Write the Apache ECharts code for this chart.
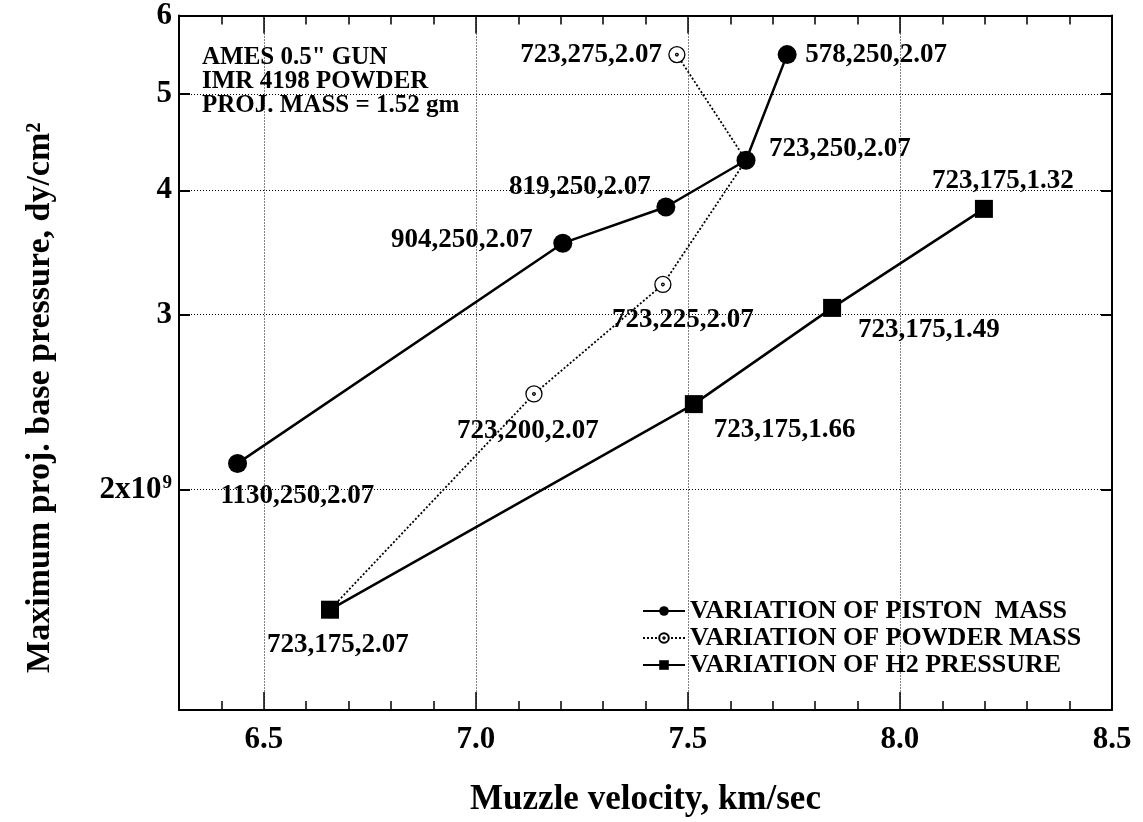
<!DOCTYPE html>
<html>
<head>
<meta charset="utf-8">
<script src="https://cdn.jsdelivr.net/npm/echarts@6/dist/echarts.min.js"></script>
<style>
html,body{margin:0;padding:0;background:#fff;}
#chart{width:1143px;height:822px;}
</style>
</head>
<body>
<div id="chart"></div>
<script>
// ---- data (velocity in km/sec, pressure in units of 10^9 dy/cm^2) ----
const xTickValues = [6.5, 7.0, 7.5, 8.0, 8.5];
const yTickValues = [2, 3, 4, 5, 6];

const seriesNames = ['VARIATION OF PISTON  MASS', 'VARIATION OF POWDER MASS', 'VARIATION OF H2 PRESSURE'];

const pistonVel = [6.438, 7.205, 7.448, 7.637, 7.734];
const pistonPres = [2.125, 3.54, 3.85, 4.29, 5.48];
const pistonLabels = ['1130,250,2.07', '904,250,2.07', '819,250,2.07', '723,250,2.07', '578,250,2.07'];

const powderVel = [6.656, 7.137, 7.441, 7.637, 7.474];
const powderPres = [1.514, 2.496, 3.217, 4.29, 5.48];
const powderLabels = ['', '723,200,2.07', '723,225,2.07', '', '723,275,2.07'];

const h2Vel = [6.656, 7.514, 7.840, 8.198];
const h2Pres = [1.514, 2.438, 3.047, 3.833];
const h2Labels = ['723,175,2.07', '723,175,1.66', '723,175,1.49', '723,175,1.32'];

const annotationLines = ['AMES 0.5" GUN', 'IMR 4198 POWDER', 'PROJ. MASS = 1.52 gm'];

// ---- label placement (styles, kept apart from the data) ----
const pistonLabelPlace = [
  {align: 'left', dx: -17, dy: 33},
  {align: 'right', dx: -30, dy: -3},
  {align: 'right', dx: -15, dy: -20},
  {align: 'left', dx: 23, dy: -11},
  {align: 'left', dx: 18, dy: 0}
];
const powderLabelPlace = [
  null,
  {align: 'left', dx: -77, dy: 37},
  {align: 'left', dx: -51, dy: 36},
  null,
  {align: 'right', dx: -15, dy: 0}
];
const h2LabelPlace = [
  {align: 'left', dx: -63, dy: 35},
  {align: 'left', dx: 20, dy: 26},
  {align: 'left', dx: 26, dy: 22},
  {align: 'left', dx: -52, dy: -28}
];

const FONT = '"Liberation Serif", "Times New Roman", serif';
const SCALE = 1e9;

function buildData(xs, ys, labels, places) {
  return xs.map(function (x, i) {
    const item = {value: [x, ys[i] * SCALE]};
    const p = places[i];
    if (labels[i] && p) {
      item.label = {
        show: true,
        position: 'inside',
        formatter: labels[i],
        align: p.align,
        verticalAlign: 'middle',
        offset: [p.dx, p.dy],
        color: '#000',
        fontFamily: FONT,
        fontWeight: 'bold',
        fontSize: 27,
        textBorderWidth: 0
      };
    } else {
      item.label = {show: false};
    }
    return item;
  });
}

const ringPath = 'path://M0,-10A10,10,0,1,1,0,10A10,10,0,1,1,0,-10ZM0,-1.6A1.6,1.6,0,1,1,0,1.6A1.6,1.6,0,1,1,0,-1.6Z';

const chart = echarts.init(document.getElementById('chart'), null, {renderer: 'canvas'});

const minorTicksAxis = function (pos) {
  return {
    type: 'value', min: 6.3, max: 8.5, interval: 0.1, position: pos,
    axisLine: {show: true, onZero: false, lineStyle: {color: '#000', width: 2}},
    axisTick: {show: true, inside: true, length: 9, lineStyle: {color: '#000', width: 1.5}},
    axisLabel: {show: false},
    splitLine: {show: false}
  };
};

const yAxisBase = function (pos) {
  return {
    type: 'log', logBase: 10, min: 1.2 * SCALE, max: 6 * SCALE, position: pos,
    axisLine: {show: true, onZero: false, lineStyle: {color: '#000', width: 2}},
    axisTick: {show: true, inside: true, length: 11, lineStyle: {color: '#000', width: 2},
      customValues: yTickValues.map(v => v * SCALE)},
    minorTick: {show: false},
    splitLine: {show: false},
    axisLabel: {show: false}
  };
};

const yLeft = yAxisBase('left');
yLeft.axisLabel = {
  show: true,
  customValues: yTickValues.map(v => v * SCALE),
  margin: 7,
  formatter: function (v) {
    const n = Math.round(v / SCALE);
    if (n === 2) return '{m|2x10}{s|9}';
    return '{m|' + n + '}';
  },
  rich: {
    m: {fontFamily: FONT, fontWeight: 'bold', fontSize: 31, color: '#000'},
    s: {fontFamily: FONT, fontWeight: 'bold', fontSize: 19, color: '#000', verticalAlign: 'top', padding: [0, 0, 12, 1]}
  }
};
yLeft.splitLine = {show: true, lineStyle: {color: '#000', width: 1, type: [1, 2]}};
yLeft.name = 'Maximum proj. base pressure, dy/cm²';
yLeft.nameLocation = 'middle';
yLeft.nameRotate = 90;
yLeft.nameGap = 122;
yLeft.nameTextStyle = {fontFamily: FONT, fontWeight: 'bold', fontSize: 34, color: '#000', padding: [0, 70, 0, 0]};

const xMajorBottom = {
  type: 'value', min: 6.3, max: 8.5, position: 'bottom',
  axisLine: {show: false, onZero: false},
  axisTick: {show: true, inside: true, length: 18, customValues: xTickValues, lineStyle: {color: '#000', width: 1.5}},
  axisLabel: {show: true, customValues: xTickValues, margin: 14,
    formatter: v => v.toFixed(1),
    fontFamily: FONT, fontWeight: 'bold', fontSize: 31, color: '#000'},
  splitLine: {show: true, lineStyle: {color: '#000', width: 1, type: [1, 2]}},
  name: 'Muzzle velocity, km/sec',
  nameLocation: 'middle',
  nameGap: 72,
  nameTextStyle: {fontFamily: FONT, fontWeight: 'bold', fontSize: 35, color: '#000'}
};
const xMajorTop = {
  type: 'value', min: 6.3, max: 8.5, position: 'top',
  axisLine: {show: false, onZero: false},
  axisTick: {show: true, inside: true, length: 18, customValues: xTickValues, lineStyle: {color: '#000', width: 1.5}},
  axisLabel: {show: false},
  splitLine: {show: false}
};

const option = {
  backgroundColor: '#fff',
  animation: false,
  grid: {left: 179, right: 31, top: 14, bottom: 111, containLabel: false},
  xAxis: [minorTicksAxis('bottom'), xMajorBottom, minorTicksAxis('top'), xMajorTop],
  yAxis: [yLeft, yAxisBase('right')],
  legend: {
    orient: 'vertical',
    left: 637, top: 593,
    itemWidth: 42, itemHeight: 12, itemGap: 1,
    data: seriesNames,
    textStyle: {fontFamily: FONT, fontWeight: 'bold', fontSize: 26, color: '#000'},
    inactiveColor: '#000'
  },
  graphic: [{
    type: 'text', left: 202, top: 45,
    style: {
      text: annotationLines.join('\n'),
      font: 'bold 25px ' + FONT,
      lineHeight: 24,
      fill: '#000'
    }
  }],
  series: [
    {
      name: seriesNames[1], type: 'line', xAxisIndex: 0, yAxisIndex: 0, z: 2,
      data: buildData(powderVel, powderPres, powderLabels, powderLabelPlace),
      symbol: ringPath, symbolSize: 16, showAllSymbol: true,
      itemStyle: {color: '#fff', borderColor: '#000', borderWidth: 1.3},
      lineStyle: {color: '#000', width: 1.8, type: [2, 2]}
    },
    {
      name: seriesNames[0], type: 'line', xAxisIndex: 0, yAxisIndex: 0, z: 3,
      data: buildData(pistonVel, pistonPres, pistonLabels, pistonLabelPlace),
      symbol: 'circle', symbolSize: 19, showAllSymbol: true,
      itemStyle: {color: '#000'},
      lineStyle: {color: '#000', width: 2.5}
    },
    {
      name: seriesNames[2], type: 'line', xAxisIndex: 0, yAxisIndex: 0, z: 4,
      data: buildData(h2Vel, h2Pres, h2Labels, h2LabelPlace),
      symbol: 'rect', symbolSize: 18, showAllSymbol: true,
      itemStyle: {color: '#000'},
      lineStyle: {color: '#000', width: 2.5}
    }
  ]
};
chart.setOption(option);
</script>
</body>
</html>
